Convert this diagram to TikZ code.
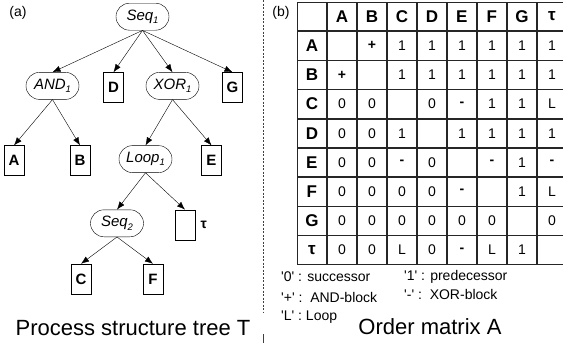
\documentclass[tikz,border=0pt]{standalone}
\usepackage{fontspec}
\setmainfont{Liberation Sans}
\usetikzlibrary{matrix,arrows.meta}

\newcommand\opsub[2]{\textit{#1}\raisebox{-0.4ex}{\fontsize{9.5}{9.5}\selectfont\itshape #2}}
\newcommand\qt[1]{\textquotesingle#1\textquotesingle}
\newcommand\pl{\textbf{+}}
\newcommand\mn{\textbf{-}}

\tikzset{
  opnode/.style={rectangle, draw, rounded corners=13.5pt, minimum height=27pt, minimum width=53pt, inner xsep=4pt, font=\fontsize{15}{17}\selectfont},
  leafnode/.style={rectangle, draw, minimum width=20pt, minimum height=30pt, inner sep=0pt, font=\fontsize{15}{17}\selectfont\bfseries},
  cell/.style={draw=black!85, line width=0.9pt, minimum width=29.5pt, minimum height=28.7pt, inner sep=0pt, anchor=center, font=\fontsize{14}{16}\selectfont},
  headcell/.style={font=\fontsize{17}{19}\selectfont\bfseries},
  legend/.style={anchor=west, inner sep=0pt, font=\fontsize{14}{16}\selectfont},
  caption/.style={inner sep=0pt, font=\fontsize{22}{24}\selectfont},
  part/.style={inner sep=0pt, font=\fontsize{14}{16}\selectfont}
}

\begin{document}
\begin{tikzpicture}[x=1pt, y=-1pt, parent anchor=south, child anchor=north,
  every child node/.style={anchor=north},
  edge from parent/.style={draw, -{Latex[length=8pt,width=6pt]}},
  level 1/.style={sibling distance=60pt, level distance=55.5pt, xshift=8pt},
  level 2/.style={sibling distance=66pt, level distance=59.5pt},
  level 3/.style={sibling distance=68pt, level distance=50.5pt},
  level 4/.style={sibling distance=72pt, level distance=40.5pt}]
\useasboundingbox (0,0) rectangle (563,343);

% (a) process structure tree
\node[part] (parta) at (18,13) {(a)};
\node[opnode, anchor=north] (seq1) at (142.5,3) {\opsub{Seq}{1}}
	child { node[opnode] (and1) {\opsub{AND}{1}}
		child[xshift=-5.5pt] { node[leafnode] (a) {A} }
		child[xshift=-5.5pt] { node[leafnode] (b) {B} }
	}
	child[xshift=1pt] { node[leafnode] (d) {D} }
	child { node[opnode] (xor1) {\opsub{XOR}{1}}
		child[xshift=6pt] { node[opnode] (loop1) {\opsub{Loop}{1}}
			child[xshift=5.5pt] { node[opnode] (seq2) {\opsub{Seq}{2}}
				child { node[leafnode] (c) {C} }
				child { node[leafnode] (f) {F} }
			}
			child[xshift=5.5pt] { node[leafnode, label={[name=taulbl, label distance=2pt, font=\fontsize{14}{16}\selectfont\bfseries]right:τ}] (tau) {} }
		}
		child[xshift=6pt] { node[leafnode] (e) {E} }
	}
	child { node[leafnode] (g) {G} };
\node[caption] (ttree) at (133,328) {Process structure tree T};

% divider
\draw[black!75, dash pattern=on 2pt off 1.5pt] (263,0) -- (263,312);
\draw[black!75] (263,334) -- (263,343);

% (b) order matrix
\node[part] (partb) at (281,13) {(b)};
\matrix (ordmat) [matrix of nodes, nodes in empty cells, anchor=north west, inner sep=0pt,
  column sep=-\pgflinewidth, row sep=-\pgflinewidth, nodes={cell},
  row 1/.style={nodes={headcell}}, column 1/.style={nodes={headcell}}] at (296.5,1.5) {
  & A & B & C & D & E & F & G & τ \\
A &   & \pl & 1 & 1 & 1 & 1 & 1 & 1 \\
B & \pl &   & 1 & 1 & 1 & 1 & 1 & 1 \\
C & 0 & 0 &   & 0 & \mn & 1 & 1 & L \\
D & 0 & 0 & 1 &   & 1 & 1 & 1 & 1 \\
E & 0 & 0 & \mn & 0 &   & \mn & 1 & \mn \\
F & 0 & 0 & 0 & 0 & \mn &   & 1 & L \\
G & 0 & 0 & 0 & 0 & 0 & 0 &   & 0 \\
τ & 0 & 0 & L & 0 & \mn & L & 1 &   \\
};

% legend
\node[legend] (lgsucc) at (281,277) {\qt{0} : successor};
\node[legend] (lgpred) at (404,277) {\qt{1} : predecessor};
\node[legend] (lgand) at (281,297) {\qt{+} :\ \ AND-block};
\node[legend] (lgxor) at (404,294) {\qt{-} :\ \ XOR-block};
\node[legend] (lgloop) at (281,317) {\qt{L} : Loop};
\node[caption] (tmat) at (430,327) {Order matrix A};
\end{tikzpicture}
\end{document}
